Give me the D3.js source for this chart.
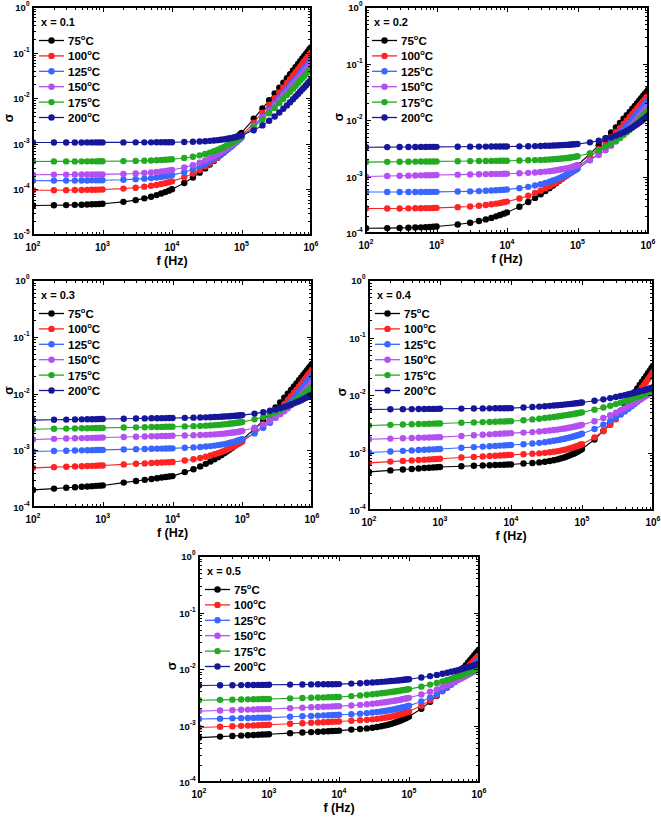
<!DOCTYPE html>
<html><head><meta charset="utf-8">
<script src="https://cdn.jsdelivr.net/npm/d3@7"></script>
<style>
body{margin:0;background:#fff}
svg{display:block}
text{font-family:"Liberation Sans",Arial,Helvetica,sans-serif;font-weight:bold;fill:#000}
</style>
</head><body><script>
// ---------- data ----------
const freq=[100,200,300,400,500,600,700,800,900,1e3,2e3,3e3,4e3,5e3,6e3,7e3,8e3,9e3,1e4,
1.5e4,2e4,2.5e4,3e4,3.5e4,4e4,4.5e4,5e4,5.5e4,6e4,6.5e4,7e4,7.5e4,8e4,8.5e4,9e4,9.5e4,1e5,
1.5e5,2e5,2.5e5,3e5,3.5e5,4e5,4.5e5,5e5,5.5e5,6e5,6.5e5,7e5,7.5e5,8e5,8.5e5,9e5,9.5e5,1e6];
const tempLabels=["75","100","125","150","175","200"];
const compLabels=["x = 0.1","x = 0.2","x = 0.3","x = 0.4","x = 0.5"];
const yMinExp=[-5,-4,-4,-4,-4];
const xTickExp=[2,3,4,5,6];

// x = 0.1
const p1_75=[4.44e-5,4.49e-5,4.53e-5,4.58e-5,4.62e-5,4.66e-5,4.71e-5,4.75e-5,4.8e-5,4.84e-5,5.33e-5,5.83e-5,6.36e-5,6.92e-5,7.49e-5,8.1e-5,8.73e-5,9.38e-5,1.01e-4,
1.38e-4,1.82e-4,2.33e-4,2.89e-4,3.52e-4,4.22e-4,4.97e-4,5.79e-4,6.67e-4,7.62e-4,8.62e-4,9.69e-4,1.08e-3,1.2e-3,1.33e-3,1.46e-3,1.6e-3,1.74e-3,
3.54e-3,5.96e-3,9.02e-3,0.0127,0.017,0.022,0.0275,0.0337,0.0406,0.048,0.0561,0.0649,0.0742,0.0842,0.0948,0.106,0.118,0.13];
const p1_100=[9.55e-5,9.59e-5,9.64e-5,9.68e-5,9.73e-5,9.77e-5,9.82e-5,9.86e-5,9.91e-5,9.95e-5,1.04e-4,1.09e-4,1.15e-4,1.2e-4,1.25e-4,1.31e-4,1.37e-4,1.43e-4,1.5e-4,
1.84e-4,2.23e-4,2.67e-4,3.16e-4,3.7e-4,4.28e-4,4.91e-4,5.59e-4,6.32e-4,7.09e-4,7.91e-4,8.78e-4,9.7e-4,1.07e-3,1.17e-3,1.27e-3,1.39e-3,1.5e-3,
2.92e-3,4.82e-3,7.19e-3,0.01,0.0134,0.0172,0.0215,0.0262,0.0315,0.0372,0.0434,0.05,0.0572,0.0648,0.0729,0.0815,0.0906,0.1];
const p1_125=[1.55e-4,1.56e-4,1.56e-4,1.56e-4,1.57e-4,1.57e-4,1.58e-4,1.58e-4,1.58e-4,1.59e-4,1.63e-4,1.68e-4,1.72e-4,1.77e-4,1.83e-4,1.88e-4,1.94e-4,2e-4,2.06e-4,
2.38e-4,2.75e-4,3.16e-4,3.62e-4,4.1e-4,4.63e-4,5.19e-4,5.8e-4,6.43e-4,7.1e-4,7.81e-4,8.55e-4,9.32e-4,1.01e-3,1.1e-3,1.19e-3,1.28e-3,1.37e-3,
2.5e-3,3.95e-3,5.72e-3,7.8e-3,0.0102,0.0129,0.0159,0.0192,0.0228,0.0267,0.0309,0.0354,0.0402,0.0453,0.0507,0.0564,0.0624,0.0687];
const p1_150=[2.1e-4,2.11e-4,2.11e-4,2.12e-4,2.12e-4,2.12e-4,2.13e-4,2.13e-4,2.14e-4,2.14e-4,2.19e-4,2.24e-4,2.3e-4,2.35e-4,2.41e-4,2.47e-4,2.53e-4,2.6e-4,2.66e-4,
3.02e-4,3.41e-4,3.84e-4,4.3e-4,4.8e-4,5.33e-4,5.9e-4,6.49e-4,7.12e-4,7.78e-4,8.47e-4,9.18e-4,9.92e-4,1.07e-3,1.15e-3,1.23e-3,1.32e-3,1.41e-3,
2.45e-3,3.76e-3,5.34e-3,7.16e-3,9.24e-3,0.0116,0.0141,0.017,0.02,0.0233,0.0269,0.0306,0.0346,0.0389,0.0434,0.0481,0.053,0.0582];
const p1_175=[4.1e-4,4.11e-4,4.11e-4,4.11e-4,4.12e-4,4.12e-4,4.12e-4,4.12e-4,4.13e-4,4.13e-4,4.17e-4,4.22e-4,4.26e-4,4.31e-4,4.36e-4,4.41e-4,4.46e-4,4.51e-4,4.57e-4,
4.87e-4,5.21e-4,5.58e-4,5.98e-4,6.41e-4,6.87e-4,7.35e-4,7.87e-4,8.4e-4,8.97e-4,9.56e-4,1.02e-3,1.08e-3,1.15e-3,1.22e-3,1.29e-3,1.36e-3,1.43e-3,
2.3e-3,3.38e-3,4.66e-3,6.13e-3,7.79e-3,9.63e-3,0.0117,0.0139,0.0162,0.0188,0.0215,0.0244,0.0275,0.0308,0.0342,0.0378,0.0415,0.0454];
const p1_200=[1.07e-3,1.07e-3,1.071e-3,1.071e-3,1.071e-3,1.072e-3,1.072e-3,1.072e-3,1.072e-3,1.073e-3,1.074e-3,1.075e-3,1.076e-3,1.077e-3,1.078e-3,1.08e-3,1.081e-3,1.083e-3,1.085e-3,
1.096e-3,1.109e-3,1.124e-3,1.141e-3,1.16e-3,1.18e-3,1.201e-3,1.225e-3,1.249e-3,1.275e-3,1.303e-3,1.331e-3,1.362e-3,1.393e-3,1.427e-3,1.461e-3,1.496e-3,1.533e-3,
1.97e-3,2.53e-3,3.2e-3,3.97e-3,4.86e-3,5.85e-3,6.95e-3,8.15e-3,9.45e-3,0.0109,0.0124,0.014,0.0157,0.0174,0.0193,0.0213,0.0234,0.0256];

// x = 0.2
const p2_75=[1.21e-4,1.22e-4,1.23e-4,1.24e-4,1.25e-4,1.26e-4,1.27e-4,1.28e-4,1.29e-4,1.3e-4,1.41e-4,1.52e-4,1.63e-4,1.74e-4,1.85e-4,1.97e-4,2.08e-4,2.2e-4,2.31e-4,
2.92e-4,3.54e-4,4.18e-4,4.85e-4,5.53e-4,6.22e-4,6.94e-4,7.67e-4,8.41e-4,9.17e-4,9.95e-4,1.07e-3,1.15e-3,1.24e-3,1.32e-3,1.4e-3,1.49e-3,1.58e-3,
2.52e-3,3.57e-3,4.75e-3,6.02e-3,7.41e-3,8.89e-3,0.0105,0.0122,0.0139,0.0158,0.0178,0.0198,0.022,0.0242,0.0266,0.029,0.0315,0.0341];
const p2_100=[2.71e-4,2.72e-4,2.72e-4,2.73e-4,2.74e-4,2.75e-4,2.76e-4,2.76e-4,2.77e-4,2.78e-4,2.87e-4,2.95e-4,3.04e-4,3.13e-4,3.22e-4,3.31e-4,3.4e-4,3.5e-4,3.59e-4,
4.07e-4,4.57e-4,5.09e-4,5.62e-4,6.16e-4,6.72e-4,7.29e-4,7.87e-4,8.47e-4,9.07e-4,9.69e-4,1.03e-3,1.1e-3,1.16e-3,1.23e-3,1.3e-3,1.36e-3,1.43e-3,
2.18e-3,3.03e-3,3.96e-3,4.97e-3,6.07e-3,7.25e-3,8.51e-3,9.85e-3,0.0113,0.0128,0.0143,0.016,0.0177,0.0194,0.0213,0.0232,0.0252,0.0273];
const p2_125=[5.31e-4,5.31e-4,5.32e-4,5.32e-4,5.33e-4,5.33e-4,5.34e-4,5.34e-4,5.35e-4,5.35e-4,5.41e-4,5.46e-4,5.52e-4,5.58e-4,5.64e-4,5.7e-4,5.76e-4,5.83e-4,5.89e-4,
6.22e-4,6.56e-4,6.92e-4,7.29e-4,7.68e-4,8.08e-4,8.49e-4,8.91e-4,9.34e-4,9.78e-4,1.02e-3,1.07e-3,1.12e-3,1.17e-3,1.22e-3,1.27e-3,1.32e-3,1.37e-3,
1.94e-3,2.59e-3,3.31e-3,4.11e-3,4.98e-3,5.91e-3,6.92e-3,7.99e-3,9.12e-3,0.0103,0.0116,0.0129,0.0143,0.0157,0.0172,0.0188,0.0204,0.022];
const p2_150=[1.0e-3,1.018e-3,1.029e-3,1.036e-3,1.042e-3,1.047e-3,1.051e-3,1.054e-3,1.057e-3,1.06e-3,1.078e-3,1.089e-3,1.096e-3,1.102e-3,1.107e-3,1.111e-3,1.114e-3,1.117e-3,1.12e-3,
1.143e-3,1.161e-3,1.179e-3,1.199e-3,1.22e-3,1.242e-3,1.266e-3,1.29e-3,1.315e-3,1.341e-3,1.368e-3,1.395e-3,1.424e-3,1.453e-3,1.484e-3,1.515e-3,1.547e-3,1.58e-3,
1.95e-3,2.4e-3,2.91e-3,3.49e-3,4.15e-3,4.86e-3,5.64e-3,6.47e-3,7.37e-3,8.33e-3,9.35e-3,0.0104,0.0116,0.0128,0.014,0.0153,0.0167,0.0181];
const p2_175=[1.8e-3,1.815e-3,1.824e-3,1.83e-3,1.835e-3,1.839e-3,1.843e-3,1.846e-3,1.848e-3,1.85e-3,1.866e-3,1.875e-3,1.881e-3,1.886e-3,1.89e-3,1.893e-3,1.896e-3,1.898e-3,1.9e-3,
1.919e-3,1.934e-3,1.95e-3,1.967e-3,1.985e-3,2.003e-3,2.022e-3,2.042e-3,2.063e-3,2.084e-3,2.106e-3,2.128e-3,2.151e-3,2.175e-3,2.2e-3,2.225e-3,2.25e-3,2.276e-3,
2.57e-3,2.92e-3,3.32e-3,3.77e-3,4.27e-3,4.81e-3,5.41e-3,6.05e-3,6.73e-3,7.46e-3,8.23e-3,9.05e-3,9.92e-3,0.0108,0.0118,0.0128,0.0138,0.0149];
const p2_200=[3.3e-3,3.315e-3,3.324e-3,3.33e-3,3.335e-3,3.339e-3,3.342e-3,3.345e-3,3.347e-3,3.35e-3,3.364e-3,3.373e-3,3.379e-3,3.384e-3,3.388e-3,3.391e-3,3.394e-3,3.397e-3,3.4e-3,
3.42e-3,3.437e-3,3.455e-3,3.474e-3,3.493e-3,3.512e-3,3.531e-3,3.551e-3,3.572e-3,3.592e-3,3.613e-3,3.635e-3,3.656e-3,3.678e-3,3.701e-3,3.723e-3,3.746e-3,3.769e-3,
4.02e-3,4.29e-3,4.6e-3,4.92e-3,5.28e-3,5.65e-3,6.05e-3,6.48e-3,6.93e-3,7.4e-3,7.89e-3,8.41e-3,8.95e-3,9.51e-3,0.0101,0.0107,0.0113,0.012];

// x = 0.3
const p3_75=[2.0e-4,2.11e-4,2.18e-4,2.23e-4,2.27e-4,2.3e-4,2.33e-4,2.36e-4,2.38e-4,2.4e-4,2.69e-4,2.87e-4,3.01e-4,3.12e-4,3.22e-4,3.3e-4,3.37e-4,3.44e-4,3.5e-4,
4.12e-4,4.64e-4,5.19e-4,5.76e-4,6.34e-4,6.94e-4,7.56e-4,8.2e-4,8.84e-4,9.51e-4,1.02e-3,1.09e-3,1.16e-3,1.23e-3,1.31e-3,1.38e-3,1.46e-3,1.54e-3,
2.39e-3,3.36e-3,4.46e-3,5.66e-3,6.98e-3,8.4e-3,9.93e-3,0.0116,0.0133,0.0151,0.0171,0.0191,0.0212,0.0234,0.0258,0.0282,0.0307,0.0333];
const p3_100=[4.9e-4,5.04e-4,5.13e-4,5.19e-4,5.24e-4,5.28e-4,5.31e-4,5.34e-4,5.37e-4,5.4e-4,5.63e-4,5.77e-4,5.87e-4,5.95e-4,6.01e-4,6.07e-4,6.12e-4,6.16e-4,6.2e-4,
6.61e-4,6.95e-4,7.31e-4,7.69e-4,8.07e-4,8.48e-4,8.89e-4,9.32e-4,9.76e-4,1.02e-3,1.07e-3,1.12e-3,1.16e-3,1.22e-3,1.27e-3,1.32e-3,1.37e-3,1.43e-3,
2.03e-3,2.74e-3,3.54e-3,4.43e-3,5.42e-3,6.5e-3,7.67e-3,8.92e-3,0.0103,0.0117,0.0132,0.0148,0.0165,0.0182,0.0201,0.022,0.024,0.0261];
const p3_125=[9.5e-4,9.7e-4,9.81e-4,9.89e-4,9.96e-4,1.001e-3,1.005e-3,1.009e-3,1.012e-3,1.015e-3,1.035e-3,1.046e-3,1.054e-3,1.061e-3,1.066e-3,1.07e-3,1.074e-3,1.077e-3,1.08e-3,
1.104e-3,1.122e-3,1.141e-3,1.162e-3,1.184e-3,1.207e-3,1.232e-3,1.257e-3,1.284e-3,1.311e-3,1.34e-3,1.37e-3,1.401e-3,1.432e-3,1.466e-3,1.499e-3,1.534e-3,1.57e-3,
1.98e-3,2.48e-3,3.06e-3,3.72e-3,4.47e-3,5.3e-3,6.2e-3,7.18e-3,8.24e-3,9.37e-3,0.0106,0.0119,0.0132,0.0146,0.0161,0.0177,0.0194,0.0211];
const p3_150=[1.55e-3,1.587e-3,1.609e-3,1.625e-3,1.637e-3,1.646e-3,1.655e-3,1.662e-3,1.668e-3,1.674e-3,1.711e-3,1.733e-3,1.749e-3,1.761e-3,1.77e-3,1.779e-3,1.786e-3,1.792e-3,1.8e-3,
1.819e-3,1.835e-3,1.851e-3,1.868e-3,1.886e-3,1.905e-3,1.924e-3,1.945e-3,1.966e-3,1.988e-3,2.01e-3,2.033e-3,2.057e-3,2.082e-3,2.107e-3,2.133e-3,2.159e-3,2.186e-3,
2.49e-3,2.86e-3,3.28e-3,3.76e-3,4.29e-3,4.87e-3,5.51e-3,6.2e-3,6.93e-3,7.72e-3,8.56e-3,9.44e-3,0.0104,0.0114,0.0124,0.0135,0.0146,0.0158];
const p3_175=[2.35e-3,2.388e-3,2.409e-3,2.425e-3,2.437e-3,2.447e-3,2.455e-3,2.463e-3,2.469e-3,2.475e-3,2.512e-3,2.534e-3,2.55e-3,2.562e-3,2.571e-3,2.58e-3,2.587e-3,2.593e-3,2.6e-3,
2.63e-3,2.657e-3,2.685e-3,2.714e-3,2.742e-3,2.772e-3,2.801e-3,2.831e-3,2.861e-3,2.892e-3,2.923e-3,2.954e-3,2.986e-3,3.018e-3,3.05e-3,3.082e-3,3.115e-3,3.148e-3,
3.5e-3,3.87e-3,4.27e-3,4.69e-3,5.14e-3,5.62e-3,6.11e-3,6.63e-3,7.18e-3,7.74e-3,8.33e-3,8.94e-3,9.57e-3,0.0102,0.0109,0.0116,0.0123,0.0131];
const p3_200=[3.4e-3,3.445e-3,3.471e-3,3.49e-3,3.505e-3,3.516e-3,3.526e-3,3.535e-3,3.543e-3,3.55e-3,3.594e-3,3.621e-3,3.64e-3,3.654e-3,3.666e-3,3.676e-3,3.685e-3,3.692e-3,3.7e-3,
3.725e-3,3.75e-3,3.776e-3,3.801e-3,3.826e-3,3.852e-3,3.877e-3,3.903e-3,3.928e-3,3.954e-3,3.979e-3,4.005e-3,4.031e-3,4.056e-3,4.082e-3,4.108e-3,4.134e-3,4.16e-3,
4.42e-3,4.69e-3,4.96e-3,5.24e-3,5.52e-3,5.81e-3,6.1e-3,6.4e-3,6.7e-3,7.01e-3,7.32e-3,7.64e-3,7.96e-3,8.29e-3,8.62e-3,8.96e-3,9.3e-3,9.65e-3];

// x = 0.4
const p4_75=[4.6e-4,4.88e-4,5.05e-4,5.18e-4,5.28e-4,5.36e-4,5.43e-4,5.49e-4,5.55e-4,5.6e-4,5.77e-4,5.88e-4,5.95e-4,6.01e-4,6.06e-4,6.1e-4,6.14e-4,6.17e-4,6.2e-4,
6.43e-4,6.57e-4,6.73e-4,6.91e-4,7.12e-4,7.34e-4,7.59e-4,7.86e-4,8.14e-4,8.44e-4,8.76e-4,9.1e-4,9.45e-4,9.83e-4,1.02e-3,1.06e-3,1.11e-3,1.15e-3,
1.68e-3,2.37e-3,3.21e-3,4.19e-3,5.31e-3,6.57e-3,7.97e-3,9.51e-3,0.0112,0.013,0.0149,0.017,0.0192,0.0215,0.0239,0.0265,0.0292,0.032];
const p4_100=[6.6e-4,6.94e-4,7.14e-4,7.29e-4,7.41e-4,7.51e-4,7.59e-4,7.66e-4,7.73e-4,7.8e-4,8.17e-4,8.39e-4,8.55e-4,8.69e-4,8.79e-4,8.89e-4,8.96e-4,9.04e-4,9.1e-4,
9.32e-4,9.49e-4,9.67e-4,9.87e-4,1.008e-3,1.031e-3,1.055e-3,1.08e-3,1.106e-3,1.134e-3,1.162e-3,1.192e-3,1.223e-3,1.256e-3,1.289e-3,1.324e-3,1.36e-3,1.396e-3,
1.83e-3,2.37e-3,3.02e-3,3.77e-3,4.62e-3,5.58e-3,6.64e-3,7.81e-3,9.07e-3,0.0104,0.0119,0.0135,0.0151,0.0169,0.0187,0.0207,0.0227,0.0249];
const p4_125=[1.0e-3,1.043e-3,1.069e-3,1.088e-3,1.103e-3,1.115e-3,1.126e-3,1.134e-3,1.143e-3,1.15e-3,1.206e-3,1.241e-3,1.267e-3,1.287e-3,1.303e-3,1.317e-3,1.329e-3,1.341e-3,1.35e-3,
1.391e-3,1.432e-3,1.473e-3,1.514e-3,1.555e-3,1.597e-3,1.639e-3,1.681e-3,1.723e-3,1.766e-3,1.808e-3,1.851e-3,1.894e-3,1.938e-3,1.981e-3,2.025e-3,2.069e-3,2.113e-3,
2.57e-3,3.04e-3,3.54e-3,4.06e-3,4.6e-3,5.16e-3,5.74e-3,6.35e-3,6.97e-3,7.62e-3,8.29e-3,8.98e-3,9.69e-3,0.0104,0.0112,0.012,0.0128,0.0136];
const p4_150=[1.7e-3,1.744e-3,1.77e-3,1.788e-3,1.804e-3,1.816e-3,1.826e-3,1.834e-3,1.843e-3,1.85e-3,1.941e-3,1.996e-3,2.037e-3,2.068e-3,2.094e-3,2.117e-3,2.137e-3,2.153e-3,2.17e-3,
2.218e-3,2.265e-3,2.313e-3,2.36e-3,2.408e-3,2.455e-3,2.503e-3,2.55e-3,2.598e-3,2.645e-3,2.693e-3,2.74e-3,2.788e-3,2.835e-3,2.883e-3,2.93e-3,2.978e-3,3.025e-3,
3.5e-3,3.98e-3,4.45e-3,4.93e-3,5.4e-3,5.88e-3,6.35e-3,6.83e-3,7.3e-3,7.78e-3,8.25e-3,8.73e-3,9.2e-3,9.68e-3,0.0102,0.0106,0.0111,0.0116];
const p4_175=[2.95e-3,3.024e-3,3.068e-3,3.098e-3,3.124e-3,3.142e-3,3.159e-3,3.177e-3,3.189e-3,3.2e-3,3.286e-3,3.341e-3,3.379e-3,3.408e-3,3.43e-3,3.453e-3,3.469e-3,3.485e-3,3.5e-3,
3.641e-3,3.762e-3,3.871e-3,3.971e-3,4.064e-3,4.152e-3,4.236e-3,4.316e-3,4.393e-3,4.467e-3,4.54e-3,4.609e-3,4.677e-3,4.743e-3,4.808e-3,4.872e-3,4.934e-3,4.995e-3,
5.56e-3,6.06e-3,6.52e-3,6.95e-3,7.36e-3,7.76e-3,8.14e-3,8.51e-3,8.87e-3,9.22e-3,9.56e-3,9.9e-3,0.0102,0.0106,0.0109,0.0112,0.0115,0.0118];
const p4_200=[5.6e-3,5.645e-3,5.672e-3,5.691e-3,5.706e-3,5.718e-3,5.728e-3,5.737e-3,5.744e-3,5.751e-3,5.797e-3,5.823e-3,5.842e-3,5.857e-3,5.869e-3,5.879e-3,5.888e-3,5.896e-3,5.902e-3,
6.046e-3,6.17e-3,6.282e-3,6.383e-3,6.478e-3,6.566e-3,6.65e-3,6.73e-3,6.806e-3,6.879e-3,6.951e-3,7.02e-3,7.086e-3,7.151e-3,7.214e-3,7.276e-3,7.336e-3,7.395e-3,
7.93e-3,8.4e-3,8.83e-3,9.22e-3,9.6e-3,9.95e-3,0.0103,0.0106,0.0109,0.0113,0.0116,0.0118,0.0121,0.0124,0.0127,0.013,0.0132,0.0135];

// x = 0.5
const p5_75=[6.1e-4,6.36e-4,6.51e-4,6.63e-4,6.72e-4,6.79e-4,6.86e-4,6.91e-4,6.96e-4,7.0e-4,7.32e-4,7.5e-4,7.64e-4,7.75e-4,7.84e-4,7.92e-4,7.99e-4,8.04e-4,8.1e-4,
8.46e-4,8.66e-4,8.88e-4,9.13e-4,9.39e-4,9.68e-4,9.99e-4,1.032e-3,1.066e-3,1.102e-3,1.14e-3,1.178e-3,1.218e-3,1.26e-3,1.304e-3,1.348e-3,1.395e-3,1.441e-3,
1.98e-3,2.62e-3,3.35e-3,4.15e-3,5.05e-3,6.01e-3,7.03e-3,8.13e-3,9.27e-3,0.0105,0.0117,0.0131,0.0144,0.0159,0.0173,0.0188,0.0204,0.022];
const p5_100=[9.2e-4,9.52e-4,9.71e-4,9.85e-4,9.95e-4,1.005e-3,1.012e-3,1.019e-3,1.025e-3,1.03e-3,1.073e-3,1.099e-3,1.118e-3,1.133e-3,1.145e-3,1.156e-3,1.165e-3,1.173e-3,1.18e-3,
1.214e-3,1.235e-3,1.258e-3,1.284e-3,1.31e-3,1.338e-3,1.368e-3,1.399e-3,1.431e-3,1.465e-3,1.5e-3,1.535e-3,1.572e-3,1.61e-3,1.649e-3,1.689e-3,1.73e-3,1.772e-3,
2.24e-3,2.78e-3,3.38e-3,4.04e-3,4.76e-3,5.52e-3,6.33e-3,7.18e-3,8.07e-3,9.0e-3,9.97e-3,0.011,0.012,0.0131,0.0142,0.0153,0.0165,0.0177];
const p5_125=[1.3e-3,1.323e-3,1.338e-3,1.348e-3,1.356e-3,1.362e-3,1.368e-3,1.373e-3,1.377e-3,1.38e-3,1.43e-3,1.459e-3,1.48e-3,1.498e-3,1.511e-3,1.523e-3,1.533e-3,1.541e-3,1.55e-3,
1.586e-3,1.622e-3,1.659e-3,1.695e-3,1.732e-3,1.77e-3,1.807e-3,1.845e-3,1.883e-3,1.922e-3,1.96e-3,1.999e-3,2.039e-3,2.078e-3,2.118e-3,2.159e-3,2.199e-3,2.24e-3,
2.67e-3,3.12e-3,3.61e-3,4.12e-3,4.67e-3,5.24e-3,5.85e-3,6.48e-3,7.15e-3,7.84e-3,8.57e-3,9.32e-3,0.0101,0.0109,0.0118,0.0126,0.0136,0.0145];
const p5_150=[1.8e-3,1.847e-3,1.875e-3,1.895e-3,1.91e-3,1.924e-3,1.935e-3,1.944e-3,1.953e-3,1.96e-3,2.029e-3,2.07e-3,2.101e-3,2.125e-3,2.144e-3,2.16e-3,2.176e-3,2.187e-3,2.2e-3,
2.262e-3,2.32e-3,2.375e-3,2.428e-3,2.48e-3,2.53e-3,2.58e-3,2.628e-3,2.676e-3,2.724e-3,2.771e-3,2.818e-3,2.864e-3,2.909e-3,2.955e-3,3.0e-3,3.045e-3,3.089e-3,
3.53e-3,3.95e-3,4.36e-3,4.77e-3,5.17e-3,5.57e-3,5.97e-3,6.36e-3,6.75e-3,7.14e-3,7.53e-3,7.91e-3,8.3e-3,8.68e-3,9.07e-3,9.45e-3,9.83e-3,0.0102];
const p5_175=[2.8e-3,2.845e-3,2.87e-3,2.89e-3,2.904e-3,2.915e-3,2.926e-3,2.937e-3,2.943e-3,2.95e-3,3.024e-3,3.068e-3,3.098e-3,3.124e-3,3.142e-3,3.159e-3,3.177e-3,3.189e-3,3.2e-3,
3.312e-3,3.407e-3,3.494e-3,3.573e-3,3.649e-3,3.719e-3,3.787e-3,3.851e-3,3.914e-3,3.974e-3,4.033e-3,4.089e-3,4.145e-3,4.199e-3,4.252e-3,4.304e-3,4.355e-3,4.405e-3,
4.87e-3,5.29e-3,5.67e-3,6.04e-3,6.39e-3,6.72e-3,7.05e-3,7.37e-3,7.68e-3,7.98e-3,8.28e-3,8.57e-3,8.86e-3,9.14e-3,9.42e-3,9.7e-3,9.98e-3,0.0103];
const p5_200=[5.1e-3,5.145e-3,5.172e-3,5.191e-3,5.205e-3,5.217e-3,5.227e-3,5.236e-3,5.243e-3,5.25e-3,5.296e-3,5.322e-3,5.341e-3,5.356e-3,5.368e-3,5.377e-3,5.386e-3,5.394e-3,5.4e-3,
5.512e-3,5.607e-3,5.694e-3,5.773e-3,5.849e-3,5.919e-3,5.987e-3,6.051e-3,6.114e-3,6.174e-3,6.233e-3,6.289e-3,6.345e-3,6.399e-3,6.452e-3,6.504e-3,6.555e-3,6.605e-3,
7.07e-3,7.49e-3,7.87e-3,8.24e-3,8.59e-3,8.92e-3,9.25e-3,9.57e-3,9.88e-3,0.0102,0.0105,0.0108,0.0111,0.0113,0.0116,0.0119,0.0122,0.0125];

const panelSeries=[
 [p1_75,p1_100,p1_125,p1_150,p1_175,p1_200],
 [p2_75,p2_100,p2_125,p2_150,p2_175,p2_200],
 [p3_75,p3_100,p3_125,p3_150,p3_175,p3_200],
 [p4_75,p4_100,p4_125,p4_150,p4_175,p4_200],
 [p5_75,p5_100,p5_125,p5_150,p5_175,p5_200]];

// ---------- layout / style ----------
const W=661,H=819;
const colors=["#000000","#ff2323","#3866ff","#b450f0","#22aa22","#16169a"];
const frames=[
 {l:33,r:311,t:7,b:235},
 {l:366,r:648,t:7,b:233},
 {l:33,r:312,t:280,b:507},
 {l:369,r:653,t:280,b:510},
 {l:199,r:479,t:556,b:782}];

const svg=d3.select("body").append("svg").attr("width",W).attr("height",H);
const defs=svg.append("defs");

function minorTicks(e0,e1){const a=[];for(let e=e0;e<e1;e++)for(let k=2;k<=9;k++)a.push(k*Math.pow(10,e));return a;}

frames.forEach((f,pi)=>{
  const g=svg.append("g");
  const x=d3.scaleLog().domain([1e2,1e6]).range([f.l,f.r]);
  const yExp=d3.range(yMinExp[pi],1);
  const y=d3.scaleLog().domain([Math.pow(10,yMinExp[pi]),1]).range([f.b,f.t]);
  const xMaj=xTickExp.map(e=>Math.pow(10,e)), xMin=minorTicks(2,6);
  const yMaj=yExp.map(e=>Math.pow(10,e)), yMin=minorTicks(yMinExp[pi],0);

  defs.append("clipPath").attr("id","clip"+pi).append("rect")
    .attr("x",f.l).attr("y",f.t).attr("width",f.r-f.l).attr("height",f.b-f.t);

  // series
  const plot=g.append("g").attr("clip-path",`url(#clip${pi})`);
  const line=d3.line().x(d=>x(d[0])).y(d=>y(d[1]));
  panelSeries[pi].forEach((vals,si)=>{
    const pts=freq.map((fq,i)=>[fq,vals[i]]);
    const sg=plot.append("g");
    sg.append("path").datum(pts).attr("d",line).attr("fill","none").attr("stroke",colors[si]).attr("stroke-width",1.1);
    sg.selectAll("circle").data(pts).join("circle").attr("cx",d=>x(d[0])).attr("cy",d=>y(d[1])).attr("r",3.2).attr("fill",colors[si]);
  });

  const axes=g.append("g").attr("shape-rendering","crispEdges");
  function ax(gen,scale,vals,len,tr){
    axes.append("g").attr("transform",tr).call(gen(scale).tickValues(vals).tickSizeInner(-len).tickSizeOuter(0).tickFormat(""))
      .call(s=>s.select(".domain").remove()).call(s=>s.selectAll("line").attr("stroke","#000").attr("stroke-width",1));
  }
  ax(d3.axisBottom,x,xMaj,5,`translate(0,${f.b})`);
  ax(d3.axisBottom,x,xMin,3,`translate(0,${f.b})`);
  ax(d3.axisTop,x,xMaj,5,`translate(0,${f.t})`);
  ax(d3.axisTop,x,xMin,3,`translate(0,${f.t})`);
  ax(d3.axisLeft,y,yMaj,5,`translate(${f.l},0)`);
  ax(d3.axisLeft,y,yMin,3,`translate(${f.l},0)`);
  ax(d3.axisRight,y,yMaj,5,`translate(${f.r},0)`);
  ax(d3.axisRight,y,yMin,3,`translate(${f.r},0)`);
  axes.append("rect").attr("x",f.l).attr("y",f.t).attr("width",f.r-f.l).attr("height",f.b-f.t)
    .attr("fill","none").attr("stroke","#000").attr("stroke-width",1.2);

  // tick labels
  xTickExp.forEach(e=>{
    const t=g.append("text").attr("x",x(Math.pow(10,e))).attr("y",f.b+16).attr("text-anchor","middle").attr("font-size",10);
    t.append("tspan").text("10");
    t.append("tspan").attr("font-size",7).attr("dy",-5).text(e);
  });
  yExp.forEach(e=>{
    const t=g.append("text").attr("x",f.l-3.5).attr("y",y(Math.pow(10,e))+4).attr("text-anchor","end").attr("font-size",9.5);
    t.append("tspan").text("10");
    t.append("tspan").attr("font-size",6.5).attr("dy",-5).text(e);
  });
  // axis titles
  g.append("text").attr("x",(f.l+f.r)/2).attr("y",f.b+30).attr("text-anchor","middle").attr("font-size",12.5).text("f (Hz)");
  const sx=Math.max(f.l-23,12.5);
  g.append("text").attr("transform",`translate(${sx},${(f.t+f.b)/2 - 3}) rotate(-90)`).attr("text-anchor","middle").attr("font-size",12.5).text("σ");

  // legend
  g.append("text").attr("x",f.l+8).attr("y",f.t+19).attr("font-size",11).text(compLabels[pi]);
  tempLabels.forEach((lab,si)=>{
    const ly=f.t+33.5+15.4*si;
    g.append("line").attr("x1",f.l+6).attr("x2",f.l+31).attr("y1",ly).attr("y2",ly).attr("stroke",colors[si]).attr("stroke-width",1.3);
    g.append("circle").attr("cx",f.l+18.5).attr("cy",ly).attr("r",3.2).attr("fill",colors[si]);
    const t=g.append("text").attr("x",f.l+35).attr("y",ly+4.5).attr("font-size",11.5);
    t.append("tspan").text(lab);
    t.append("tspan").attr("font-size",7.5).attr("dy",-5).text("o");
    t.append("tspan").attr("dy",5).text("C");
  });
});
</script></body></html>
